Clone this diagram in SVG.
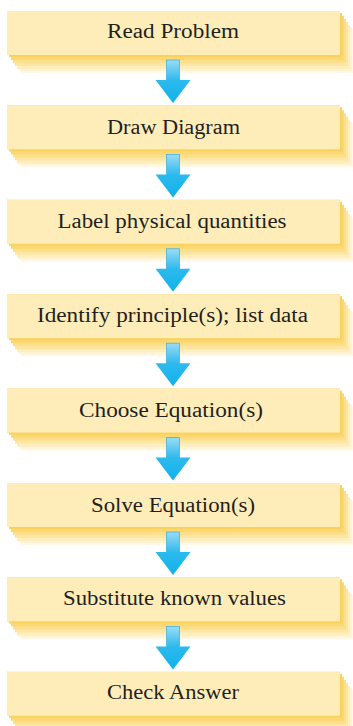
<svg xmlns="http://www.w3.org/2000/svg" xmlns:xlink="http://www.w3.org/1999/xlink" width="353" height="726" viewBox="0 0 353 726">
<style>
.box{fill:#FEEDB9}
.lbl{font-family:"Liberation Serif","Times New Roman",serif;font-size:20.5px;fill:#231F20;text-anchor:middle}
</style>
<defs>
<linearGradient id="shaft" x1="0" y1="0" x2="0" y2="1">
<stop offset="0" stop-color="#9ADCF6"/>
<stop offset="1" stop-color="#2BB8EC"/>
</linearGradient>
<linearGradient id="head" x1="0" y1="0" x2="0" y2="1">
<stop offset="0" stop-color="#2DBAEE"/>
<stop offset="1" stop-color="#0FB2EA"/>
</linearGradient>
<g id="shadow">
<rect x="21" y="28" width="333" height="44" fill="#FFF8E6"/>
<rect x="19" y="26" width="333" height="44" fill="#FFF3D3"/>
<rect x="17" y="24" width="333" height="44" fill="#FEEDBD"/>
<rect x="15" y="21" width="333" height="44" fill="#FDE6A4"/>
<rect x="13" y="18" width="333" height="44" fill="#FCDF8B"/>
<rect x="11" y="15" width="333" height="44" fill="#FBD873"/>
<rect x="9" y="12" width="333" height="44" fill="#FAD15A"/>
<rect x="7" y="10" width="333" height="44" fill="#F9CC4C"/>
</g>
<g id="arrow">
<rect x="-6.5" y="0" width="13" height="21" fill="url(#shaft)" stroke="#45B3DF" stroke-width="0.8"/>
<polygon points="-17.5,20 17.5,20 0,43" fill="url(#head)"/>
</g>
</defs>

<g id="read-problem">
<use xlink:href="#shadow" y="1"/>
<rect class="box" x="7" y="11" width="333" height="44"/>
<text class="lbl" x="173" y="38" textLength="132" lengthAdjust="spacingAndGlyphs">Read Problem</text>
</g>
<g id="draw-diagram">
<use xlink:href="#shadow" y="95.4"/>
<rect class="box" x="7" y="105.4" width="333" height="44"/>
<text class="lbl" x="173.5" y="134" textLength="133" lengthAdjust="spacingAndGlyphs">Draw Diagram</text>
</g>
<g id="label-quantities">
<use xlink:href="#shadow" y="189.8"/>
<rect class="box" x="7" y="199.8" width="333" height="44"/>
<text class="lbl" x="172" y="227.5" textLength="229" lengthAdjust="spacingAndGlyphs">Label physical quantities</text>
</g>
<g id="identify-principles">
<use xlink:href="#shadow" y="284.2"/>
<rect class="box" x="7" y="294.2" width="333" height="44"/>
<text class="lbl" x="172.5" y="322" textLength="271" lengthAdjust="spacingAndGlyphs">Identify principle(s); list data</text>
</g>
<g id="choose-equations">
<use xlink:href="#shadow" y="378.6"/>
<rect class="box" x="7" y="388.6" width="333" height="44"/>
<text class="lbl" x="171" y="417" textLength="184" lengthAdjust="spacingAndGlyphs">Choose Equation(s)</text>
</g>
<g id="solve-equations">
<use xlink:href="#shadow" y="473"/>
<rect class="box" x="7" y="483" width="333" height="44"/>
<text class="lbl" x="173" y="512" textLength="164" lengthAdjust="spacingAndGlyphs">Solve Equation(s)</text>
</g>
<g id="substitute-values">
<use xlink:href="#shadow" y="567.4"/>
<rect class="box" x="7" y="577.4" width="333" height="44"/>
<text class="lbl" x="174.5" y="605" textLength="223" lengthAdjust="spacingAndGlyphs">Substitute known values</text>
</g>
<g id="check-answer">
<use xlink:href="#shadow" y="661.8"/>
<rect class="box" x="7" y="671.8" width="333" height="44"/>
<text class="lbl" x="173" y="698.5" textLength="132" lengthAdjust="spacingAndGlyphs">Check Answer</text>
</g>

<g id="connectors">
<use xlink:href="#arrow" x="173" y="60"/>
<use xlink:href="#arrow" x="173" y="154.4"/>
<use xlink:href="#arrow" x="173" y="248.8"/>
<use xlink:href="#arrow" x="173" y="343.2"/>
<use xlink:href="#arrow" x="173" y="437.6"/>
<use xlink:href="#arrow" x="173" y="532"/>
<use xlink:href="#arrow" x="173" y="626.4"/>
</g>
</svg>
